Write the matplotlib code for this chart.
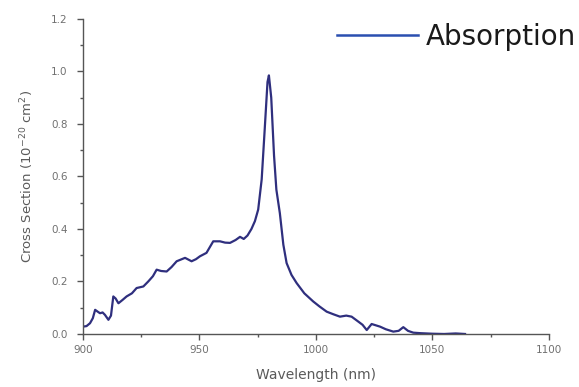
import matplotlib
matplotlib.use("Agg")
import matplotlib.pyplot as plt
from matplotlib.ticker import MultipleLocator

# wavelength (nm) and absorption cross section (1e-20 cm^2)
wavelength = [900, 901.5, 903, 904.2, 905.2, 906.3, 907.3, 908.4, 909.4, 910.9, 912, 913, 914,
              915.2, 917, 918.7, 921, 923, 925.9, 928, 930, 931.6, 933.5, 935.9, 938, 940.2,
              943.8, 946.6, 948.5, 950.2, 953, 955.9, 958.8, 961, 963.1, 965.5, 967.4, 969,
              970.6, 972.3, 973.8, 975.2, 976.7, 978, 979.2, 979.8, 980.8, 982, 983, 984.5,
              986, 987.4, 989.5, 991.7, 995, 998.8, 1001.5, 1004.6, 1007.5, 1010.3, 1013,
              1015.3, 1018.2, 1020, 1021.8, 1023.9, 1027.5, 1030, 1033.2, 1035.5, 1037.5,
              1039.5, 1041.8, 1045, 1050, 1055, 1060, 1064]
cross_section = [0.028, 0.03, 0.041, 0.06, 0.092, 0.085, 0.079, 0.082, 0.073, 0.054, 0.07, 0.143,
                 0.135, 0.117, 0.13, 0.143, 0.155, 0.175, 0.181, 0.2, 0.22, 0.245, 0.24, 0.238,
                 0.255, 0.277, 0.29, 0.277, 0.285, 0.296, 0.309, 0.353, 0.353, 0.348, 0.347,
                 0.358, 0.37, 0.362, 0.375, 0.4, 0.43, 0.474, 0.589, 0.78, 0.96, 0.985, 0.9,
                 0.68, 0.55, 0.46, 0.34, 0.27, 0.225, 0.194, 0.155, 0.124, 0.105, 0.085, 0.075,
                 0.066, 0.07, 0.066, 0.047, 0.035, 0.015, 0.038, 0.028, 0.018, 0.009, 0.012,
                 0.026, 0.012, 0.005, 0.003, 0.001, 0.0, 0.002, 0.0]

x_ticks = [900, 950, 1000, 1050, 1100]
y_ticks = [0.0, 0.2, 0.4, 0.6, 0.8, 1.0, 1.2]

plt.rcParams['font.family'] = ['DejaVu Sans']

fig = plt.figure(figsize=(5.79, 3.87), dpi=100)
ax = fig.add_axes([0.1434, 0.137, 0.8046, 0.814])

line, = ax.plot(wavelength, cross_section, color='#2f2f7e', lw=1.6)

ax.set_xlim(900, 1100)
ax.set_ylim(0, 1.2)
ax.set_xticks(x_ticks)
ax.set_yticks(y_ticks)
ax.set_xticklabels([str(t) for t in x_ticks])
ax.set_yticklabels(['%.1f' % t for t in y_ticks])
ax.xaxis.set_minor_locator(MultipleLocator(25))
ax.yaxis.set_minor_locator(MultipleLocator(0.1))

for s in ['top', 'right']:
    ax.spines[s].set_visible(False)
for s in ['left', 'bottom']:
    ax.spines[s].set_color('#555555')
    ax.spines[s].set_linewidth(1.0)

ax.tick_params(which='major', length=4, width=1, color='#555555',
               labelsize=7.5, labelcolor='#707070')
ax.tick_params(axis='x', which='major', pad=4)
ax.tick_params(axis='y', which='major', pad=7)
ax.tick_params(which='minor', length=2.5, width=1, color='#555555')

ax.set_xlabel('Wavelength (nm)', fontsize=10, color='#5a5a5a', labelpad=9)
ax.set_ylabel('Cross Section (10$^{-20}$ cm$^2$)', fontsize=9.5, color='#5a5a5a', labelpad=11)

# legend sits up in the top right corner
h, = ax.plot([], [], color='#2a4fb0', lw=1.8)
leg = fig.legend([h], ['Absorption'], loc='center right', bbox_to_anchor=(0.995, 0.905),
                 frameon=False, handlelength=2.9, handletextpad=0.3,
                 borderaxespad=0, borderpad=0,
                 prop={'family': 'DejaVu Sans', 'size': 20})
for t in leg.get_texts():
    t.set_color('#1a1a1a')

fig.savefig('out.png', dpi=100)
